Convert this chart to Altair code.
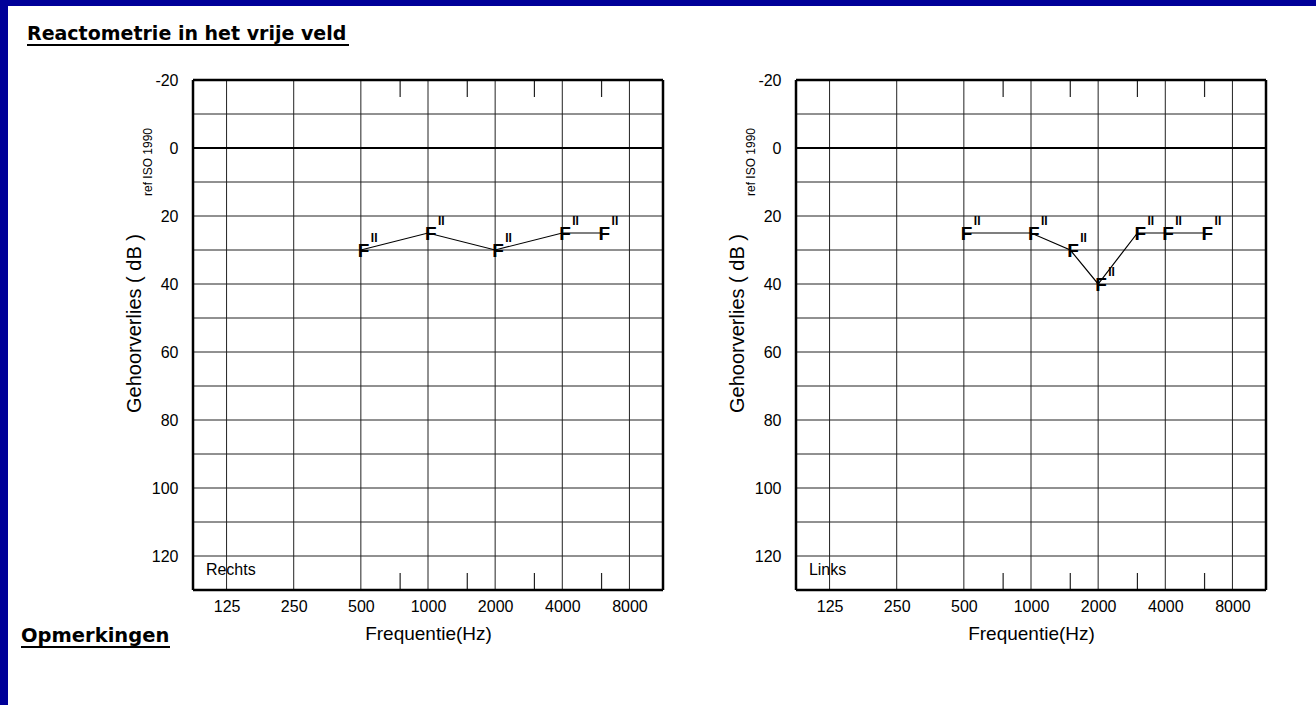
import altair as alt
import pandas as pd

# ---------------- data ----------------
freq_rechts = [500, 1000, 2000, 4000, 6000]
db_rechts = [30, 25, 30, 25, 25]
freq_links = [500, 1000, 1500, 2000, 3000, 4000, 6000]
db_links = [25, 25, 30, 40, 25, 25, 25]

octave_freqs = [125, 250, 500, 1000, 2000, 4000, 8000]
half_octave_freqs = [750, 1500, 3000, 6000]
grid_db = [-10, 10, 20, 30, 40, 50, 60, 70, 80, 90, 100, 110, 120]
zero_db = [0]
y_labels = [-20, 0, 20, 40, 60, 80, 100, 120]
x_domain = [88.388, 11313.7]
y_domain = [-20, 130]
top_tick = [-20, -15]
bottom_tick = [125, 130]

FONT = "Liberation Sans"
TITLE_FONT = "DejaVu Sans"
W, H = 470, 510

xscale = alt.Scale(type="log", base=2, domain=x_domain, nice=False)
yscale = alt.Scale(domain=y_domain, reverse=True, nice=False, zero=False)
xaxis = alt.Axis(values=octave_freqs, format="d", grid=False, ticks=False, domain=False,
                 labelFontSize=16, labelFont=FONT, labelColor="black", labelPadding=8,
                 labelFlush=False, labelOverlap=False,
                 title="Frequentie(Hz)", titleFont=FONT, titleFontSize=19,
                 titleFontWeight="normal", titleColor="black", titlePadding=10, zindex=1)
yaxis = alt.Axis(values=y_labels, grid=False, ticks=False, domain=False,
                 labelExpr="'' + datum.value",
                 labelFontSize=16, labelFont=FONT, labelColor="black", labelPadding=15,
                 title="Gehoorverlies ( dB )", titleFont=FONT, titleFontSize=20,
                 titleFontWeight="normal", titleColor="black",
                 titleX=-59, titleY=243, titleBaseline="middle", titleAngle=270, zindex=1)


def X(field):
    return alt.X(field, type="quantitative", scale=xscale, axis=xaxis)


def Y(field):
    return alt.Y(field, type="quantitative", scale=yscale, axis=yaxis)


def panel(freqs, dbs, side_label, with_background):
    layers = []
    if with_background:
        bg = alt.Chart(pd.DataFrame({"a": [0]})).mark_rect(color="white", clip=False).encode(
            x=alt.value(-185), x2=alt.value(1123), y=alt.value(-74), y2=alt.value(625))
        layers.append(bg)
        title = alt.Chart(pd.DataFrame({"t": ["Reactometrie in het vrije veld"]})).mark_text(
            font=TITLE_FONT, fontSize=19, fontWeight="bold", align="left", baseline="alphabetic",
            color="black").encode(text="t:N", x=alt.value(-166), y=alt.value(-40))
        title_ul = alt.Chart(pd.DataFrame({"a": [0]})).mark_rule(color="black", strokeWidth=2).encode(
            x=alt.value(-166), x2=alt.value(156), y=alt.value(-35))
        opm = alt.Chart(pd.DataFrame({"t": ["Opmerkingen"]})).mark_text(
            font=TITLE_FONT, fontSize=19.5, fontWeight="bold", align="left", baseline="alphabetic",
            color="black").encode(text="t:N", x=alt.value(-172), y=alt.value(562))
        opm_ul = alt.Chart(pd.DataFrame({"a": [0]})).mark_rule(color="black", strokeWidth=2).encode(
            x=alt.value(-172), x2=alt.value(-23), y=alt.value(567))
        layers += [title, title_ul, opm, opm_ul]

    hgrid = alt.Chart(pd.DataFrame({"db": grid_db})).mark_rule(color="#222", strokeWidth=1).encode(y=Y("db"))
    zline = alt.Chart(pd.DataFrame({"db": zero_db})).mark_rule(color="black", strokeWidth=2.2).encode(y=Y("db"))
    vgrid = alt.Chart(pd.DataFrame({"f": octave_freqs})).mark_rule(color="#222", strokeWidth=1).encode(x=X("f"))
    top_df = pd.DataFrame({"f": half_octave_freqs, "db": [top_tick[0]] * 4, "db2": [top_tick[1]] * 4})
    bot_df = pd.DataFrame({"f": half_octave_freqs, "db": [bottom_tick[0]] * 4, "db2": [bottom_tick[1]] * 4})
    ticks_top = alt.Chart(top_df).mark_rule(color="#222", strokeWidth=1.2).encode(x=X("f"), y=Y("db"), y2="db2")
    ticks_bot = alt.Chart(bot_df).mark_rule(color="#222", strokeWidth=1.2).encode(x=X("f"), y=Y("db"), y2="db2")
    frame_h = alt.Chart(pd.DataFrame({"db": y_domain})).mark_rule(color="black", strokeWidth=2.5).encode(y=Y("db"))
    frame_v = alt.Chart(pd.DataFrame({"f": x_domain})).mark_rule(color="black", strokeWidth=2.5).encode(x=X("f"))

    data = pd.DataFrame({"f": freqs, "db": dbs})
    line = alt.Chart(data).mark_line(color="black", strokeWidth=1.2).encode(x=X("f"), y=Y("db"))
    fmark = alt.Chart(data).mark_text(text="F", font=FONT, fontSize=19, fontWeight="bold",
                                      align="left", baseline="middle", dx=-3, dy=1,
                                      color="black").encode(x=X("f"), y=Y("db"))
    sup = alt.Chart(data).mark_text(text="II", font=FONT, fontSize=12, fontWeight="bold",
                                    align="left", baseline="middle", dx=10, dy=-12,
                                    color="black").encode(x=X("f"), y=Y("db"))
    lab = alt.Chart(pd.DataFrame({"t": [side_label], "f": [101], "db": [124]})).mark_text(
        font=FONT, fontSize=16, align="left", baseline="middle", color="black").encode(
        x=X("f"), y=Y("db"), text="t:N")
    ref = alt.Chart(pd.DataFrame({"t": ["ref ISO 1990"]})).mark_text(
        font=FONT, fontSize=12, angle=270, align="center", baseline="middle", color="black").encode(
        text="t:N", x=alt.value(-45), y=alt.value(82))

    layers += [hgrid, vgrid, ticks_top, ticks_bot, zline, frame_h, frame_v, line, fmark, sup, lab, ref]
    return alt.layer(*layers).properties(width=W, height=H)


left = panel(freq_rechts, db_rechts, "Rechts", True)
right = panel(freq_links, db_links, "Links", False)

chart = alt.hconcat(left, right, spacing=133, bounds="flush").properties(
    background="#000099",
    padding={"left": 8, "top": 6, "right": 0, "bottom": 0},
).configure_view(stroke=None)

chart.save("out.html", embed_options={"renderer": "svg", "actions": False})
